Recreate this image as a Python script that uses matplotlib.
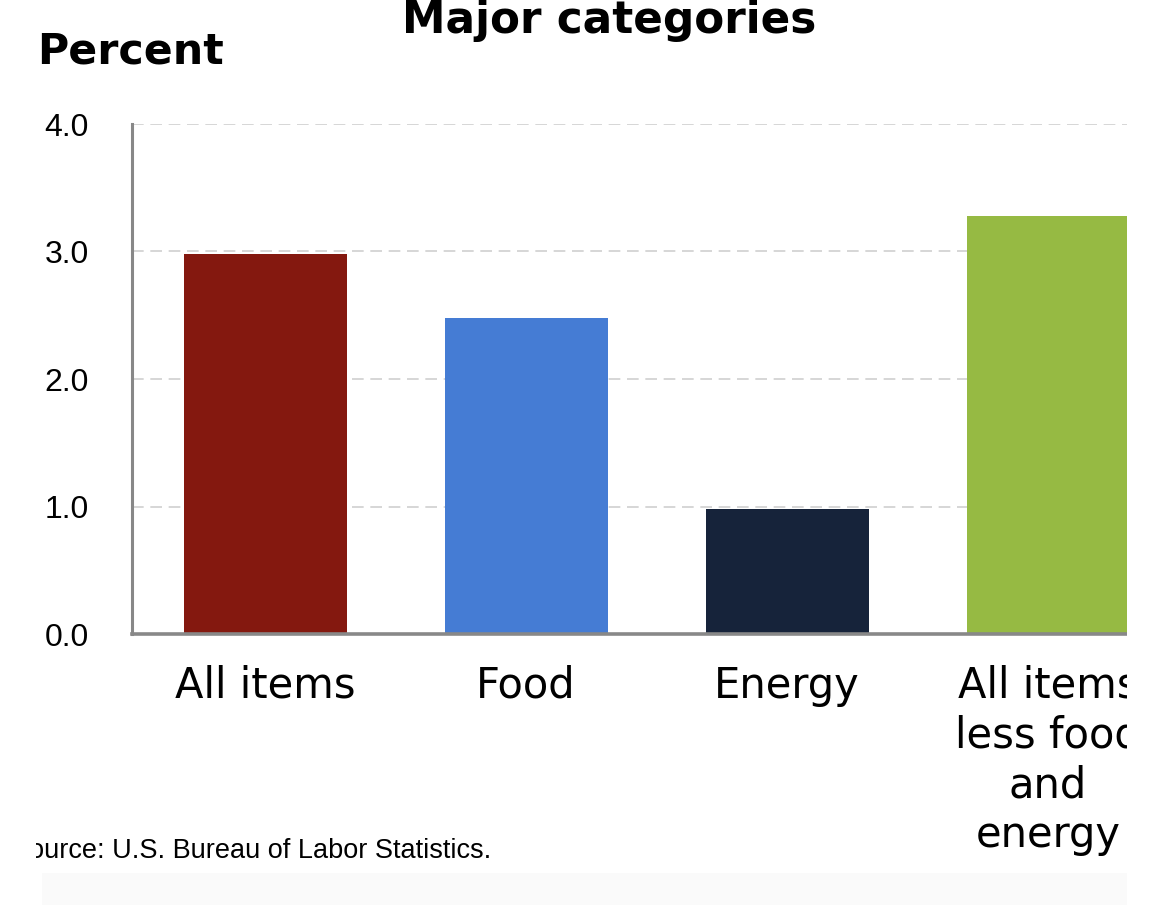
import matplotlib
matplotlib.use("Agg")
import matplotlib.pyplot as plt
from matplotlib.patches import Rectangle

# 12-month percent change, major CPI categories
categories = ["All items", "Food", "Energy", "All items\nless food\nand\nenergy"]
values = [2.98, 2.48, 0.98, 3.28]
colors = ["#84180f", "#457cd4", "#16233a", "#96ba43"]
y_ticks = [0.0, 1.0, 2.0, 3.0, 4.0]

W, H = 1170, 905
fig = plt.figure(figsize=(W / 100, H / 100), dpi=100)
fig.patch.set_facecolor("white")

# axes: left spine at x=132, zero at y=634, 4.0 at y=124; 4 slots of 261 px
ax = fig.add_axes([132 / W, (H - 634) / H, 1044 / W, 510 / H])
x = list(range(len(categories)))
ax.bar(x, values, width=0.625, color=colors, zorder=3)
ax.set_xlim(-0.51, 3.49)
ax.set_ylim(0, 4.0)

ax.set_yticks(y_ticks)
ax.set_yticklabels([f"{v:.1f}" for v in y_ticks], fontsize=23, family="Liberation Sans")
ax.set_xticks(x)
ax.set_xticklabels(categories, fontsize=30, family="DejaVu Sans", linespacing=1.24)
ax.tick_params(axis="y", length=0, pad=31)
ax.tick_params(axis="x", length=0, pad=22)

ax.grid(axis="y", color="#d0d0d0", linestyle=(0, (7, 4)), linewidth=1.2, zorder=0)
for s in ["top", "right"]:
    ax.spines[s].set_visible(False)
ax.spines["left"].set_color("#888888")
ax.spines["left"].set_linewidth(2.2)
ax.spines["bottom"].set_color("#888888")
ax.spines["bottom"].set_linewidth(2.6)
ax.spines["bottom"].set_zorder(4)

fig.text(609 / W, 1 - 33 / H, "Major categories", ha="center", va="baseline",
         fontsize=31.5, fontweight="bold", family="DejaVu Sans")
fig.text(37 / W, 1 - 63 / H, "Percent", ha="left", va="baseline",
         fontsize=30.8, fontweight="bold", family="DejaVu Sans")
fig.text(491 / W, 1 - 858 / H, "Source: U.S. Bureau of Labor Statistics.", ha="right",
         va="baseline", fontsize=19.5, family="Liberation Sans")

# light strip at the bottom, then the white margins of the crop
fig.add_artist(Rectangle((42 / W, 0), (1127 - 42) / W, 32 / H, transform=fig.transFigure,
                         facecolor="#fafafa", edgecolor="none", zorder=5))
fig.add_artist(Rectangle((1127 / W, 0), 1, 1, transform=fig.transFigure,
                         facecolor="white", edgecolor="none", zorder=10))
fig.add_artist(Rectangle((0, 0), 36 / W, 1 - 70 / H, transform=fig.transFigure,
                         facecolor="white", edgecolor="none", zorder=10))

fig.savefig("out.png", dpi=100)
